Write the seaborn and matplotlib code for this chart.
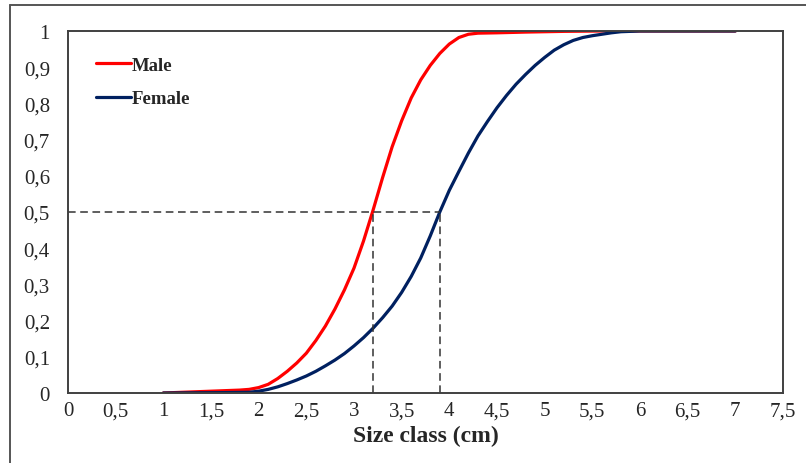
import matplotlib
matplotlib.use("Agg")
import matplotlib.pyplot as plt
from matplotlib.lines import Line2D
import seaborn as sns
import pandas as pd

# Cumulative size-class curves
male_x = [1.0, 1.2, 1.4, 1.6, 1.8, 1.9, 2.0, 2.1, 2.2, 2.3, 2.4, 2.5, 2.6, 2.7, 2.8, 2.9,
          3.0, 3.1, 3.2, 3.3, 3.4, 3.5, 3.6, 3.7, 3.8, 3.9, 4.0, 4.1, 4.2, 4.3, 4.5, 4.8,
          5.2, 5.6, 6.0, 6.5, 7.0]
male_y = [0.0, 0.002, 0.004, 0.006, 0.008, 0.010, 0.015, 0.024, 0.040, 0.060, 0.083, 0.110,
          0.145, 0.185, 0.232, 0.285, 0.345, 0.420, 0.505, 0.595, 0.680, 0.752, 0.815,
          0.865, 0.905, 0.938, 0.964, 0.982, 0.991, 0.994, 0.995, 0.997, 0.999, 1.0, 1.0,
          1.0, 1.0]

female_x = [1.0, 1.3, 1.6, 1.9, 2.0, 2.1, 2.2, 2.3, 2.4, 2.5, 2.6, 2.7, 2.8, 2.9, 3.0,
            3.1, 3.2, 3.3, 3.4, 3.5, 3.6, 3.7, 3.8, 3.9, 4.0, 4.1, 4.2, 4.3, 4.4, 4.5,
            4.6, 4.7, 4.8, 4.9, 5.0, 5.1, 5.2, 5.3, 5.4, 5.5, 5.6, 5.7, 5.8, 5.9, 6.0,
            6.5, 7.0]
female_y = [0.0, 0.0005, 0.001, 0.002, 0.005, 0.010, 0.017, 0.026, 0.036, 0.047, 0.060,
            0.075, 0.091, 0.109, 0.130, 0.153, 0.179, 0.208, 0.240, 0.278, 0.322, 0.373,
            0.434, 0.500, 0.560, 0.612, 0.663, 0.710, 0.750, 0.788, 0.822, 0.853, 0.880,
            0.905, 0.927, 0.947, 0.962, 0.974, 0.982, 0.987, 0.991, 0.995, 0.998, 0.999,
            1.0, 1.0, 1.0]

l50_male = 3.2
l50_female = 3.9

x_ticks = [i * 0.5 for i in range(16)]
x_labels = ["0", "0,5", "1", "1,5", "2", "2,5", "3", "3,5", "4", "4,5",
            "5", "5,5", "6", "6,5", "7", "7,5"]
y_ticks = [i / 10 for i in range(11)]
y_labels = ["0", "0,1", "0,2", "0,3", "0,4", "0,5", "0,6", "0,7", "0,8", "0,9", "1"]

df = pd.concat([
    pd.DataFrame({"size": male_x, "cum": male_y, "sex": "Male"}),
    pd.DataFrame({"size": female_x, "cum": female_y, "sex": "Female"}),
])

sns.set_style("white")
plt.rcParams["font.family"] = ["Liberation Serif", "DejaVu Serif"]

fig = plt.figure(figsize=(8.06, 4.64), dpi=100)
ax = fig.add_axes([68 / 806, 70 / 464, 715 / 806, 362 / 464])

sns.lineplot(data=df, x="size", y="cum", hue="sex", sort=False,
             palette={"Male": "#ff0000", "Female": "#002060"},
             linewidth=2.3, ax=ax, estimator=None,
             solid_joinstyle="round", solid_capstyle="round")

# 50% reference lines
dash = dict(color="#333333", lw=1.1, ls=(0, (5, 3)))
ax.plot([0, l50_female], [0.5, 0.5], **dash)
ax.plot([l50_male, l50_male], [0, 0.5], **dash)
ax.plot([l50_female, l50_female], [0, 0.5], **dash)

ax.set_xlim(0, 7.5)
ax.set_ylim(0, 1)
ax.set_xticks(x_ticks)
ax.set_xticklabels(x_labels, fontsize=15)
ax.set_yticks(y_ticks)
ax.set_yticklabels(y_labels, fontsize=15)
ax.tick_params(axis="both", length=0)
ax.tick_params(axis="x", pad=6)
ax.tick_params(axis="y", pad=13)
ax.set_xlabel("Size class (cm)", fontsize=17, fontweight="bold", labelpad=3)
ax.set_ylabel("")

for s in ax.spines.values():
    s.set_color("#404040")
    s.set_linewidth(1.4)

leg = ax.legend(loc="upper left", bbox_to_anchor=(0.015, 0.975), frameon=False,
                handlelength=1.9, handletextpad=0.05, labelspacing=0.85,
                prop={"size": 13.5, "weight": "bold"})
for h in leg.get_lines():
    h.set_linewidth(2.3)

# outer frame around the figure
fig.add_artist(Line2D([10 / 806, 10 / 806], [-0.01, 1 - 6 / 464], color="#555555", lw=1.4))
fig.add_artist(Line2D([10 / 806, 1.01], [1 - 6 / 464, 1 - 6 / 464], color="#555555", lw=1.4))

fig.savefig("out.png", dpi=100)
